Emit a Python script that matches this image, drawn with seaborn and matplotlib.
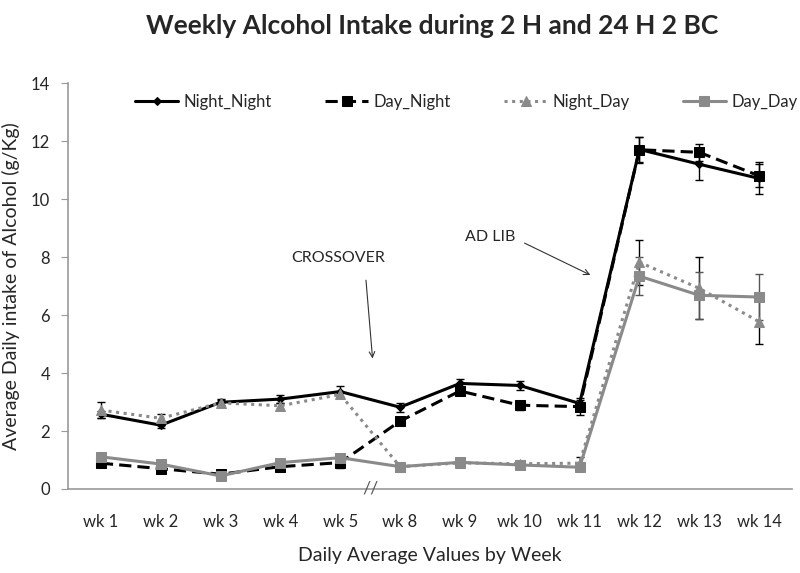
import pandas as pd
import matplotlib.pyplot as plt
import seaborn as sns

weeks = ["wk 1", "wk 2", "wk 3", "wk 4", "wk 5", "wk 8", "wk 9", "wk 10", "wk 11", "wk 12", "wk 13", "wk 14"]

night_night = [2.58, 2.20, 2.99, 3.10, 3.36, 2.82, 3.64, 3.57, 2.95, 11.71, 11.20, 10.71]
night_night_err = [0.12, 0.10, 0.10, 0.15, 0.20, 0.15, 0.15, 0.15, 0.12, 0.43, 0.55, 0.55]

day_night = [0.89, 0.70, 0.51, 0.77, 0.91, 2.34, 3.38, 2.89, 2.84, 11.70, 11.61, 10.80]
day_night_err = [0.08, 0.08, 0.08, 0.08, 0.20, 0.10, 0.15, 0.15, 0.30, 0.45, 0.30, 0.40]

night_day = [2.72, 2.44, 2.97, 2.87, 3.26, 0.77, 0.90, 0.87, 0.89, 7.82, 6.92, 5.77]
night_day_err = [0.28, 0.15, 0.10, 0.10, 0.10, 0.05, 0.05, 0.05, 0.20, 0.77, 1.07, 0.78]

day_day = [1.11, 0.86, 0.45, 0.91, 1.08, 0.77, 0.92, 0.83, 0.75, 7.34, 6.68, 6.62]
day_day_err = [0.08, 0.08, 0.05, 0.08, 0.10, 0.05, 0.05, 0.05, 0.05, 0.65, 0.82, 0.80]

series = {
    "Night_Night": (night_night, night_night_err),
    "Day_Night": (day_night, day_night_err),
    "Night_Day": (night_day, night_day_err),
    "Day_Day": (day_day, day_day_err),
}

rows = []
for name, (vals, errs) in series.items():
    for w, v, e in zip(weeks, vals, errs):
        rows.append({"week": w, "group": name, "value": v, "err": e})
df = pd.DataFrame(rows)

sns.set_style("white")
plt.rcParams["font.family"] = ["Lato", "DejaVu Sans"]

grey = "#8a8a8a"
palette = {"Night_Night": "black", "Day_Night": "black", "Night_Day": grey, "Day_Day": grey}
dashes = {"Night_Night": "", "Day_Night": (4, 2), "Night_Day": (1, 1.5), "Day_Day": ""}
markers = {"Night_Night": "D", "Day_Night": "s", "Night_Day": "^", "Day_Day": "s"}
msize = {"Night_Night": 4, "Day_Night": 7, "Night_Day": 7, "Day_Day": 7}

fig = plt.figure(figsize=(8, 5.73), dpi=100)
ax = fig.add_axes([0.085, 0.1466, 0.905, 0.7085])

xpos = {w: i for i, w in enumerate(weeks)}
df["x"] = df["week"].map(xpos)

# error bars first, underneath the lines
for name in series:
    sub = df[df["group"] == name]
    ax.errorbar(sub["x"], sub["value"], yerr=sub["err"], fmt="none",
                ecolor="black" if name != "Day_Day" else "#555555",
                elinewidth=1, capsize=3, capthick=1, zorder=1)

for name in series:
    sub = df[df["group"] == name]
    sns.lineplot(data=sub, x="x", y="value", color=palette[name],
                 marker=markers[name], markersize=msize[name],
                 markeredgecolor=palette[name], linewidth=2.2,
                 dashes=False, label=name, ax=ax, zorder=3)
    if dashes[name]:
        ax.lines[-1].set_dashes(dashes[name])

ax.set_xlim(-0.55, len(weeks) - 0.45)
ax.set_ylim(0, 14)
ax.set_yticks(range(0, 15, 2))
ax.set_xticks(range(len(weeks)))
ax.set_xticklabels(weeks)
ax.tick_params(axis="x", length=0, pad=18, labelsize=12)
ax.tick_params(axis="y", length=5, color="#999999", direction="out", left=True, labelsize=12, pad=8)
for s in ["top", "right"]:
    ax.spines[s].set_visible(False)
for s in ["left", "bottom"]:
    ax.spines[s].set_color("#999999")
    ax.spines[s].set_linewidth(1.2)

ax.set_xlabel("Daily Average Values by Week", fontsize=14, labelpad=12)
ax.set_ylabel("Average Daily intake of Alcohol (g/Kg)", fontsize=14, labelpad=8)
fig.suptitle("Weekly Alcohol Intake during 2 H and 24 H 2 BC", fontsize=19, fontweight="bold",
             x=0.54, y=0.975)

# axis break mark between wk 5 and wk 8
ax.text(4.5, 0, "//", fontsize=13, color="#555555", ha="center", va="center", clip_on=False)

ax.text(3.96, 7.97, "CROSSOVER", fontsize=11.5, ha="center", va="center")
ax.annotate("", xy=(4.54, 4.5), xytext=(4.43, 7.2),
            arrowprops=dict(arrowstyle="->", color="#333333", lw=0.8, shrinkA=0, shrinkB=0))
ax.text(6.5, 8.69, "AD LIB", fontsize=11.5, ha="center", va="center")
ax.annotate("", xy=(8.18, 7.38), xytext=(7.08, 8.48),
            arrowprops=dict(arrowstyle="->", color="#333333", lw=0.8, shrinkA=0, shrinkB=0))

leg = ax.legend(loc="upper center", bbox_to_anchor=(0.55, 1.01), ncol=4, frameon=False,
                fontsize=12, handlelength=2.6, columnspacing=3.2, handletextpad=0.3)

fig.savefig("out.png", dpi=100)
